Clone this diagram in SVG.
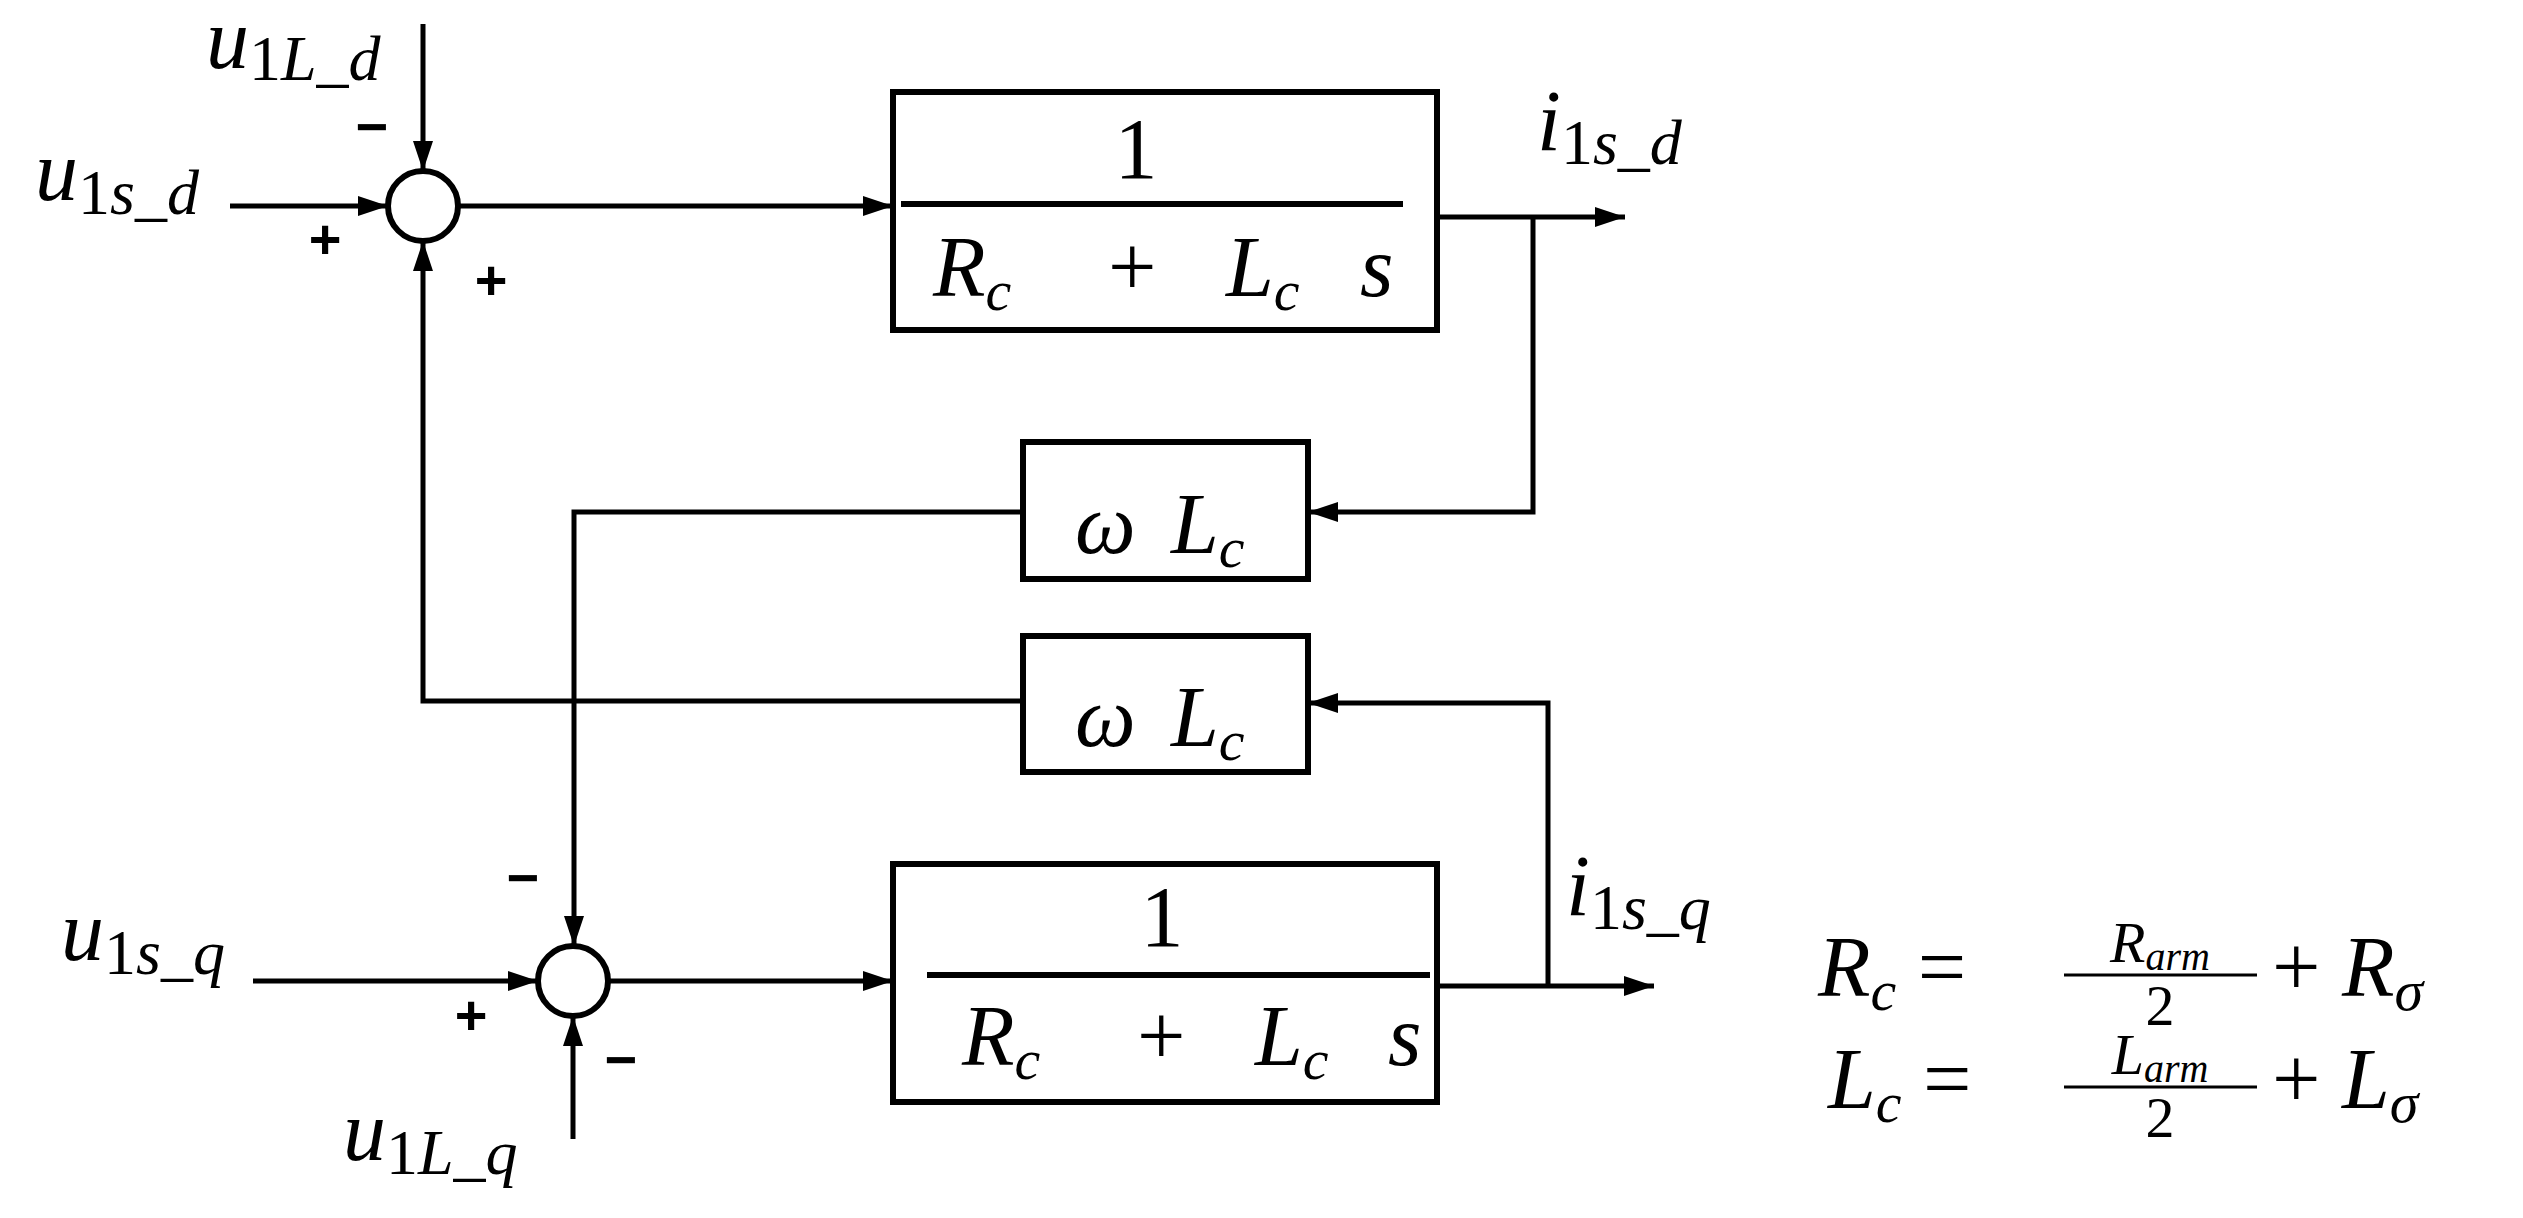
<svg xmlns="http://www.w3.org/2000/svg" width="2523" height="1218" viewBox="0 0 2523 1218">
<defs>
<style>
.ln{fill:none;stroke:#000;stroke-width:5}
.bx{fill:#fff;stroke:#000;stroke-width:6}
.m{font-family:"Liberation Serif",serif;font-style:italic;font-size:86px}
.r{font-style:normal}
.s{font-size:58px}
.sl{font-size:64px}
.sg{font-family:"Liberation Sans",sans-serif;font-weight:bold;font-size:56px}
</style>
<marker id="a" viewBox="0 0 30 20" refX="30" refY="10" markerWidth="30" markerHeight="20" markerUnits="userSpaceOnUse" orient="auto"><path d="M0,0 L30,10 L0,20 z" fill="#000"/></marker>
</defs>
<rect width="2523" height="1218" fill="#fff"/>
<g id="connectors">
<path class="ln" d="M423,24 V171" marker-end="url(#a)"/>
<path class="ln" d="M230,206 H388" marker-end="url(#a)"/>
<path class="ln" d="M458,206 H893" marker-end="url(#a)"/>
<path class="ln" d="M1437,217 H1625" marker-end="url(#a)"/>
<path class="ln" d="M1533,217 V512 H1308" marker-end="url(#a)"/>
<path class="ln" d="M1023,512 H574 V946" marker-end="url(#a)"/>
<path class="ln" d="M1023,701 H423 V241" marker-end="url(#a)"/>
<path class="ln" d="M1548,986 V703 H1308" marker-end="url(#a)"/>
<path class="ln" d="M253,981 H538" marker-end="url(#a)"/>
<path class="ln" d="M573,1139 V1016" marker-end="url(#a)"/>
<path class="ln" d="M608,981 H893" marker-end="url(#a)"/>
<path class="ln" d="M1437,986 H1654" marker-end="url(#a)"/>
</g>
<g id="sum1"><circle cx="423" cy="206" r="35" class="bx"/></g>
<g id="sum2"><circle cx="573" cy="981" r="35" class="bx"/></g>
<g id="block1">
<rect x="893" y="92" width="544" height="238" class="bx"/>
<line x1="901" y1="204" x2="1403" y2="204" stroke="#000" stroke-width="6"/>
<text class="m r" x="1136" y="178" text-anchor="middle">1</text>
<text class="m" x="933" y="296">R<tspan class="s" dy="14">c</tspan></text>
<text class="m r" x="1108" y="296">+</text>
<text class="m" x="1226" y="296">L<tspan class="s" dy="14">c</tspan></text>
<text class="m" x="1360" y="296">s</text>
</g>
<g id="block2">
<rect x="1023" y="442" width="285" height="137" class="bx"/>
<text class="m" x="1075" y="553">ω</text>
<text class="m" x="1171" y="553">L<tspan class="s" dy="14">c</tspan></text>
</g>
<g id="block3">
<rect x="1023" y="636" width="285" height="136" class="bx"/>
<text class="m" x="1075" y="746">ω</text>
<text class="m" x="1171" y="746">L<tspan class="s" dy="14">c</tspan></text>
</g>
<g id="block4">
<rect x="893" y="864" width="544" height="238" class="bx"/>
<line x1="927" y1="975" x2="1430" y2="975" stroke="#000" stroke-width="6"/>
<text class="m r" x="1162" y="946" text-anchor="middle">1</text>
<text class="m" x="962" y="1065">R<tspan class="s" dy="14">c</tspan></text>
<text class="m r" x="1137" y="1065">+</text>
<text class="m" x="1255" y="1065">L<tspan class="s" dy="14">c</tspan></text>
<text class="m" x="1388" y="1065">s</text>
</g>
<g id="labels">
<text class="m" x="206" y="68">u<tspan class="sl" dy="12"><tspan class="r">1</tspan>L_d</tspan></text>
<text class="m" x="35" y="200">u<tspan class="sl" dy="14"><tspan class="r">1</tspan>s_d</tspan></text>
<text class="m" x="1537" y="150">i<tspan class="sl" dy="14"><tspan class="r">1</tspan>s_d</tspan></text>
<text class="m" x="1566" y="915">i<tspan class="sl" dy="14"><tspan class="r">1</tspan>s_q</tspan></text>
<text class="m" x="61" y="960">u<tspan class="sl" dy="14"><tspan class="r">1</tspan>s_q</tspan></text>
<text class="m" x="343" y="1160">u<tspan class="sl" dy="14"><tspan class="r">1</tspan>L_q</tspan></text>
<text class="sg" x="372" y="146" text-anchor="middle">−</text>
<text class="sg" x="325" y="258" text-anchor="middle">+</text>
<text class="sg" x="491" y="299" text-anchor="middle">+</text>
<text class="sg" x="523" y="897" text-anchor="middle">−</text>
<text class="sg" x="471" y="1034" text-anchor="middle">+</text>
<text class="sg" x="621" y="1079" text-anchor="middle">−</text>
</g>
<g id="equations">
<text class="m" x="1818" y="996">R<tspan class="s" dy="14">c</tspan><tspan class="r" dy="-14"> = </tspan></text>
<text class="m s" x="2160" y="962" text-anchor="middle">R<tspan font-size="40" dy="8">arm</tspan></text>
<line x1="2064" y1="975" x2="2257" y2="975" stroke="#000" stroke-width="3"/>
<text class="m s r" x="2160" y="1025" text-anchor="middle">2</text>
<text class="m" x="2272" y="996"><tspan class="r">+ </tspan>R<tspan class="s" dy="14">σ</tspan></text>
<text class="m" x="1828" y="1108">L<tspan class="s" dy="14">c</tspan><tspan class="r" dy="-14"> = </tspan></text>
<text class="m s" x="2160" y="1074" text-anchor="middle">L<tspan font-size="40" dy="8">arm</tspan></text>
<line x1="2064" y1="1087" x2="2257" y2="1087" stroke="#000" stroke-width="3"/>
<text class="m s r" x="2160" y="1137" text-anchor="middle">2</text>
<text class="m" x="2272" y="1108"><tspan class="r">+ </tspan>L<tspan class="s" dy="14">σ</tspan></text>
</g>
</svg>
